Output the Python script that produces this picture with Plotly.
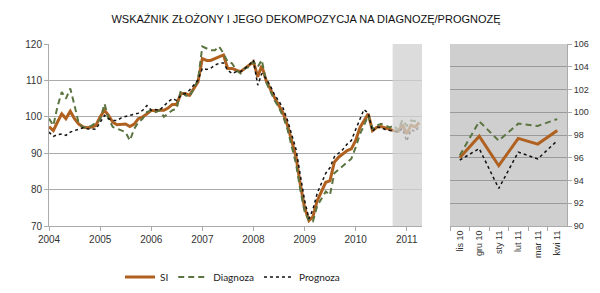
import pandas as pd
import plotly.graph_objects as go

title = "WSKAŹNIK ZŁOŻONY I JEGO DEKOMPOZYCJA NA DIAGNOZĘ/PROGNOZĘ"
months = pd.date_range("2004-01-01", periods=88, freq="MS")

si = [
    97.3, 96.2, 98.5, 100.8, 99.5, 101.5, 99.5, 98.0, 97.2, 97.0, 97.2, 97.6,
    100.0, 101.8, 100.4, 98.5, 97.8, 97.8, 98.0, 97.3, 98.0, 99.5, 100.0, 100.8,
    101.8, 101.6, 101.8, 101.8, 102.4, 103.4, 103.4, 106.4, 106.4, 105.9, 107.8, 109.6,
    116.0, 115.5, 115.5, 116.0, 116.5, 117.0, 113.3, 113.3, 112.8, 112.4, 113.3, 114.2,
    115.1, 111.0, 114.0, 110.0, 107.5, 105.2, 103.1, 101.0, 97.6, 93.5, 88.9, 81.5,
    75.0, 71.5, 72.5, 76.9, 79.6, 82.0, 82.4, 87.5, 88.9, 89.8, 90.7, 91.2,
    93.5, 97.1, 99.0, 100.8, 96.2, 97.1, 97.3, 96.9, 96.4, 96.2, 96.0, 97.9,
    95.3, 97.7, 97.2, 98.4,
]
diagnoza = [
    99.5, 97.6, 102.7, 106.8, 105.0, 107.8, 103.2, 98.1, 97.2, 97.0, 97.6, 98.5,
    99.2, 103.6, 99.5, 97.2, 96.7, 96.4, 95.8, 93.5, 96.7, 98.5, 99.5, 101.3,
    101.8, 101.3, 101.8, 100.0, 100.9, 101.8, 102.2, 107.3, 105.9, 105.5, 107.8, 110.1,
    119.3, 118.8, 118.3, 118.3, 119.3, 117.4, 115.1, 114.7, 112.8, 111.9, 113.3, 113.7,
    115.1, 113.7, 115.6, 109.5, 107.0, 104.5, 102.5, 100.0, 96.5, 92.0, 87.0, 80.0,
    74.0, 71.5, 71.2, 75.5, 77.5, 79.5, 78.5, 84.5, 85.5, 86.5, 87.5, 88.5,
    91.6, 95.3, 97.6, 100.4, 96.7, 97.6, 98.1, 97.6, 97.1, 97.6, 96.2, 99.2,
    97.5, 99.0, 98.8, 99.4,
]
prognoza = [
    95.8, 94.6, 95.1, 95.3, 94.9, 95.8, 96.2, 96.7, 97.0, 96.7, 96.7, 96.6,
    98.5, 100.4, 99.5, 99.0, 99.0, 99.7, 100.1, 100.4, 100.8, 101.0, 101.8, 103.1,
    101.8, 102.0, 101.8, 103.1, 104.1, 105.0, 104.5, 105.9, 106.4, 107.3, 108.7, 110.1,
    113.3, 113.0, 113.3, 114.2, 114.7, 114.8, 112.8, 111.9, 112.4, 112.4, 113.3, 114.2,
    115.6, 108.7, 111.9, 110.5, 108.5, 106.0, 104.3, 102.3, 99.0, 95.0, 91.0, 84.0,
    77.0, 72.0, 74.5, 79.0, 81.5, 84.5, 86.0, 89.0, 90.0, 91.0, 92.5, 93.5,
    96.5, 99.5, 102.0, 101.0, 96.0, 97.2, 97.0, 96.5, 96.3, 96.0, 95.8, 96.8,
    93.3, 96.5, 95.9, 97.5,
]

zoom_cats = ["lis 10", "gru 10", "sty 11", "lut 11", "mar 11", "kwi 11"]
zoom_si = si[-6:]
zoom_diag = diagnoza[-6:]
zoom_prog = prognoza[-6:]

C_SI = "#B0601F"
C_DG = "#5B7440"
C_PG = "#111111"
FONT = "Liberation Sans, Arial, sans-serif"

fig = go.Figure()
styles = [
    ("SI", si, zoom_si, dict(color=C_SI, width=3)),
    ("Diagnoza", diagnoza, zoom_diag, dict(color=C_DG, width=2, dash="6px,4px")),
    ("Prognoza", prognoza, zoom_prog, dict(color=C_PG, width=1.5, dash="dot")),
]
for name, full, z, line in styles:
    fig.add_trace(go.Scatter(x=months, y=full, mode="lines", name=name, line=line,
                             xaxis="x", yaxis="y", showlegend=True))
for name, full, z, line in styles:
    fig.add_trace(go.Scatter(x=zoom_cats, y=z, mode="lines", name=name, line=line,
                             xaxis="x2", yaxis="y2", showlegend=False))

fig.add_shape(type="rect", xref="x", yref="paper", x0="2010-09-22", x1="2011-04-20",
              y0=1 - 226 / 293, y1=1 - 44 / 293, fillcolor="rgba(208,208,208,0.75)",
              line_width=0, layer="above")

grid = "#ABABAB"
fig.update_layout(
    width=600, height=293,
    margin=dict(l=0, r=0, t=0, b=0),
    paper_bgcolor="white",
    plot_bgcolor="white",
    font=dict(family=FONT, size=10, color="#333"),
    title=dict(text=title, x=0.51, xanchor="center", y=1 - 19 / 293, yanchor="middle",
               font=dict(size=11, color="#111", family=FONT)),
    xaxis=dict(domain=[49 / 600, 422 / 600], type="date",
               range=["2004-01-01", "2011-04-20"],
               tickvals=[f"{y}-01-01" for y in range(2004, 2012)],
               ticktext=[str(y) for y in range(2004, 2012)],
               showgrid=False, showline=True, linecolor=grid, linewidth=1,
               ticks="outside", ticklen=4, tickcolor=grid,
               tickfont=dict(size=10, color="#333"), automargin=False),
    yaxis=dict(domain=[1 - 226 / 293, 1 - 44 / 293], range=[70, 120], dtick=10,
               showgrid=True, gridcolor=grid, gridwidth=1,
               showline=True, linecolor=grid, ticks="outside", ticklen=4, tickcolor=grid,
               tickfont=dict(size=10, color="#333"), zeroline=False, automargin=False),
    xaxis2=dict(domain=[450 / 600, 567 / 600], type="category", anchor="y2",
                range=[-0.5, 5.5],
                tickangle=-90, tickson="boundaries", ticks="outside", ticklen=4,
                tickcolor=grid, showline=True, linecolor=grid, showgrid=False,
                tickfont=dict(size=9, color="#333"), automargin=False),
    yaxis2=dict(domain=[1 - 226 / 293, 1 - 44 / 293], range=[90, 106], dtick=2,
                anchor="x2", side="right", showgrid=True, gridcolor="#9a9a9a",
                showline=True, linecolor=grid, ticks="outside", ticklen=4, tickcolor=grid,
                tickfont=dict(size=9, color="#333"), zeroline=False, automargin=False),
    legend=dict(orientation="h", x=0.2, xanchor="left", y=1 - 277 / 293, yanchor="middle",
                font=dict(size=10, color="#222", family="Lato, Liberation Sans, sans-serif"),
                bgcolor="rgba(0,0,0,0)", itemwidth=30, tracegroupgap=0),
)
fig.add_shape(type="rect", xref="x2 domain", yref="y2 domain", x0=0, x1=1, y0=0, y1=1,
              fillcolor="#CFCFCF", line_width=0, layer="below")

fig.write_html("out.html")
